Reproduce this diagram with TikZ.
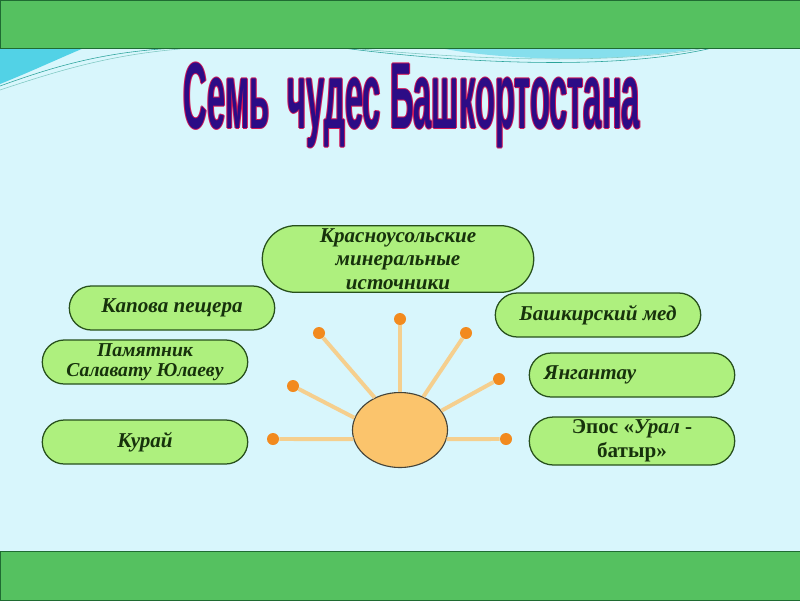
\documentclass[tikz,border=0pt]{standalone}
\usepackage{fontspec}
\usepackage{graphicx}
\setmainfont{Liberation Serif}
\newfontfamily\headfont{Liberation Sans}
\usetikzlibrary{shapes.misc,shapes.geometric,positioning}
\definecolor{bgc}{HTML}{D8F6FC}
\definecolor{barc}{HTML}{55C160}
\definecolor{bard}{HTML}{1F6B32}
\definecolor{leaf}{HTML}{AEF07E}
\definecolor{leafd}{HTML}{27501C}
\definecolor{inkc}{HTML}{17320C}
\definecolor{sunc}{HTML}{FBC46C}
\definecolor{sund}{HTML}{45443A}
\definecolor{rayc}{HTML}{F5CF8E}
\definecolor{dotc}{HTML}{F28A1E}
\definecolor{ttl}{HTML}{2C0C86}
\definecolor{ttlr}{HTML}{D0185A}
\definecolor{swc}{HTML}{52D2E6}
\definecolor{swl}{HTML}{2AA39A}
\newcommand{\ttltext}{\resizebox*{11.4cm}{2.125cm}{\headfont\bfseries Семь\ \ чудес Башкортостана}}

\begin{document}
\begin{tikzpicture}[x=0.025cm,y=-0.025cm,
  oval/.style={rounded rectangle,draw=leafd,fill=leaf,line width=0.9pt,minimum width=5.275cm,minimum height=1.1cm,
    font=\bfseries\itshape\fontsize{15}{17}\selectfont,text=inkc,align=center,inner sep=2pt},
  ray/.style={rayc,line width=2.8pt},
  tip/.style={circle,fill=dotc,inner sep=0pt,minimum size=0.3cm}]
  \useasboundingbox (0,0) rectangle (800,600);
  \fill[bgc] (0,0) rectangle (800,600);
  % swooshes under the top bar
  \fill[swc] (0,48) -- (84,48) .. controls (60,58) and (30,72) .. (0,84) -- cycle;
  \draw[swl,thin] (0,86) .. controls (50,68) and (100,52) .. (176,48);
  \draw[swl!60,thin] (0,90) .. controls (60,70) and (110,55) .. (180,49);
  \fill[swc!70] (440,48) .. controls (500,60) and (610,64) .. (700,48) -- cycle;
  \draw[swl,thin] (343,48) .. controls (450,62) and (610,72) .. (712,48);
  \draw[swl!60,thin] (360,49) .. controls (460,58) and (600,66) .. (700,49);
  % bars
  \filldraw[fill=barc,draw=bard] (0,0) rectangle (800,48);
  \filldraw[fill=barc,draw=bard] (0,551) rectangle (800,600);
  % title
  \foreach \dx/\dy in {-1/0,1/0,0/-1,0/1} {
    \node[inner sep=0pt,anchor=north,text=ttlr] (rim) at (412+\dx,63+\dy) {\ttltext};}
  \node[inner sep=0pt,anchor=north,text=ttl] (title) at (412,63) {\ttltext};
  % wonders
  \node[oval,minimum width=6.925cm,minimum height=1.6cm,font=\bfseries\itshape\fontsize{15}{16.7}\selectfont] (kras) at (398,259)
    {Красноусольские\\минеральные\\источники};
  \node[oval] (kapova) at (172,308) {Капова пещера};
  \node[oval,font=\bfseries\itshape\fontsize{14}{14.5}\selectfont] (salavat) at (145,362) {Памятник\\Салавату Юлаеву};
  \node[oval] (kuray) at (145,442) {Курай};
  \node[oval] (med) at (598,315) {Башкирский мед};
  \node[oval,text width=4.4cm,align=left] (yangan) at (632,375) {Янгантау};
  \node[oval,font=\bfseries\fontsize{15}{17}\selectfont] (epos) at (632,441) {Эпос «\textit{Урал} -\\батыр»};
  % sun
  \node[ellipse,draw=sund,fill=sunc,line width=0.8pt,minimum width=2.375cm,minimum height=1.875cm,inner sep=0pt] (sun) at (400,430) {};
  \foreach \x/\y/\a [count=\i] in {319/333/128,400/319/90,466/333/55,293/386/165,499/379/25,273/439/191,506/439/349} {
    \node[tip] (d\i) at (\x,\y) {};
    \draw[ray] (sun.\a) -- (d\i);}
\end{tikzpicture}
\end{document}
